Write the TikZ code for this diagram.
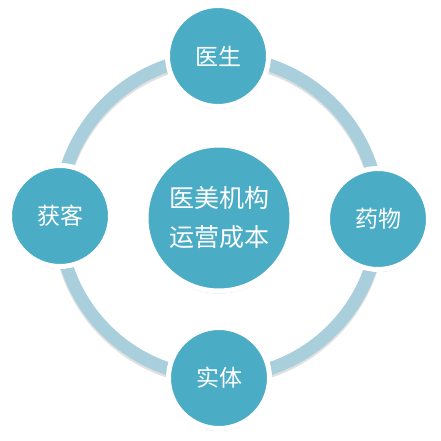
\documentclass[tikz,border=0pt]{standalone}
\usepackage{fontspec}
\newfontfamily\cjk{Noto Sans CJK SC}
\usetikzlibrary{shadows}
\definecolor{aqua}{HTML}{4BACC6}
\definecolor{ringblue}{HTML}{A9CFDD}

\begin{document}
\begin{tikzpicture}[x=1pt, y=-1pt, every node/.style={font=\cjk\color{white}},
			c/.style={circle, draw=white, line width=5pt, fill=aqua, minimum size=101pt, inner sep=0pt, font=\cjk\fontsize{23}{26}\selectfont\color{white},
				drop shadow={shadow xshift=0pt, shadow yshift=-2.5pt, opacity=0.25, fill=black}}]
			\useasboundingbox (0,0) rectangle (440,441);
			% the ring behind, with a faint shadow
			\draw[black, opacity=0.12, line width=13pt] (219,219.5) circle[radius=160];
			\draw[ringblue, line width=13pt] (219,217) circle[radius=160];
			\node[c, minimum size=146pt, align=center, font=\cjk\fontsize{25}{39}\selectfont\color{white}] (core) at (219,218) {医美机构\\运营成本};
			\node[c] (doc) at (218,56) {医生};
			\node[c] (drug) at (378,219) {药物};
			\node[c] (body) at (219,378) {实体};
			\node[c] (cust) at (60,216) {获客};
		\end{tikzpicture}
\end{document}
